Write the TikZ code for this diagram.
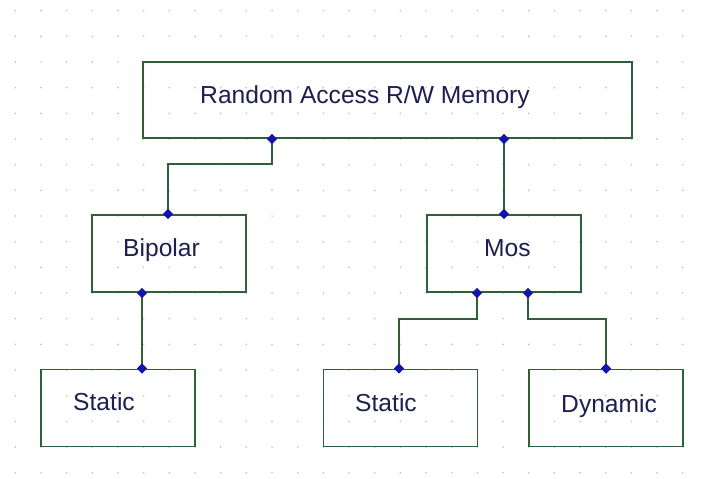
\documentclass[tikz,border=0pt]{standalone}
\usepackage{fontspec}
\setmainfont{Liberation Sans}
\usetikzlibrary{shapes.geometric}
\definecolor{wire}{RGB}{48,96,58}
\definecolor{joint}{RGB}{20,20,170}
\definecolor{ink}{RGB}{30,30,80}
\definecolor{griddot}{RGB}{195,195,195}
\begin{document}
\begin{tikzpicture}[x=0.03cm,y=-0.03cm,
  blockbox/.style={draw=wire,line width=1.6pt,inner sep=0pt,minimum width=4.62cm,minimum height=2.31cm},
  wirepath/.style={draw=wire,line width=1.6pt},
  jointdot/.style={diamond,fill=joint,inner sep=0pt,minimum width=9pt,minimum height=9pt},
  caption/.style={anchor=base west,inner sep=0pt,text=ink,font=\fontsize{21}{25}\selectfont}]
  \useasboundingbox (0,0) rectangle (704,478);
  \fill[white] (0,0) rectangle (704,478);
  % background grid of dots
  \foreach \i in {0,...,26}
    \foreach \j in {0,...,18}
      \fill[griddot] ({15.33+25.67*\i},{10.67+25.67*\j}) circle (0.8pt);

  % blocks
  \node[blockbox,minimum width=14.67cm,minimum height=2.28cm] (ram) at (387.5,100) {};
  \node[blockbox] (bip) at (169,253.5) {};
  \node[blockbox] (mos) at (504,253.5) {};
  \node[blockbox] (sl) at (118,408) {};
  \node[blockbox] (sm) at (400.5,408) {};
  \node[blockbox] (dyn) at (606,408) {};

  % labels
  \node[caption] (tram) at (200,103) {Random Access R/W Memory};
  \node[caption] (tbip) at (123,256) {Bipolar};
  \node[caption] (tmos) at (484,256) {Mos};
  \node[caption] (tsl) at (73,410) {Static};
  \node[caption] (tsm) at (355,411) {Static};
  \node[caption] (tdyn) at (561,412) {Dynamic};

  % connection points on the block edges
  \coordinate (ramA) at (ram.south -| 272,0);
  \coordinate (ramB) at (ram.south -| 504,0);
  \coordinate (bipT) at (bip.north -| 168,0);
  \coordinate (bipB) at (bip.south -| 142,0);
  \coordinate (mosT) at (mos.north -| 504,0);
  \coordinate (mosL) at (mos.south -| 477,0);
  \coordinate (mosR) at (mos.south -| 528,0);
  \coordinate (slT) at (sl.north -| 142,0);
  \coordinate (smT) at (sm.north -| 399,0);
  \coordinate (dynT) at (dyn.north -| 606,0);

  % wires
  \draw[wirepath] (ramA) -- ++(0,25) -| (bipT);
  \draw[wirepath] (ramB) -- (mosT);
  \draw[wirepath] (bipB) -- (slT);
  \draw[wirepath] (mosL) -- ++(0,26) -| (smT);
  \draw[wirepath] (mosR) -- ++(0,26) -| (dynT);

  % junction markers
  \foreach \p in {ramA,ramB,bipT,bipB,mosT,mosL,mosR,slT,smT,dynT}
    \node[jointdot] at (\p) {};
\end{tikzpicture}
\end{document}
